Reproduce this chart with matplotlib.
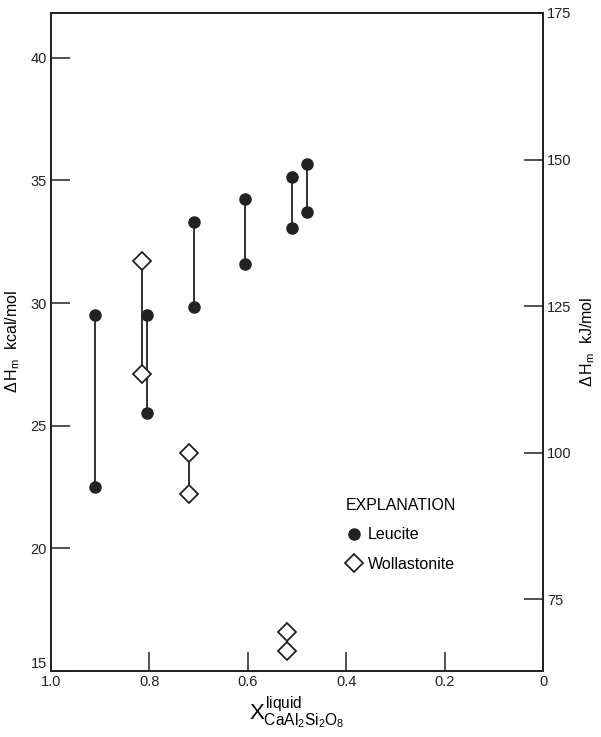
import matplotlib
matplotlib.use("Agg")
import matplotlib.pyplot as plt
from matplotlib.lines import Line2D

plt.rcParams['font.family'] = ['Liberation Sans', 'DejaVu Sans']
plt.rcParams['mathtext.fontset'] = 'custom'
plt.rcParams['mathtext.rm'] = 'Liberation Sans'
plt.rcParams['mathtext.it'] = 'Liberation Sans'

KCAL_TO_KJ = 4.184

# leucite: mole fraction and the two enthalpy estimates (kcal/mol)
leucite_x = [0.91, 0.805, 0.71, 0.605, 0.51, 0.48]
leucite_hi = [29.5, 29.5, 33.3, 34.25, 35.15, 35.65]
leucite_lo = [22.5, 25.5, 29.85, 31.6, 33.05, 33.7]

# wollastonite
woll_x = [0.815, 0.72, 0.52]
woll_hi = [31.7, 23.9, 16.6]
woll_lo = [27.1, 22.2, 15.8]

xticks = [1.0, 0.8, 0.6, 0.4, 0.2, 0.0]
xticklabels = ['1.0', '0.8', '0.6', '0.4', '0.2', '0']
kcal_ticks = [15, 20, 25, 30, 35, 40]
kj_ticks = [75, 100, 125, 150, 175]

fig = plt.figure(figsize=(6.01, 7.37), dpi=100)
ax = fig.add_axes([0.085, 0.0896, 0.8185, 0.8928])

for x, a, b in zip(leucite_x, leucite_hi, leucite_lo):
    ax.plot([x, x], [a, b], color='#222222', lw=1.3, zorder=2)
for x, a, b in zip(woll_x, woll_hi, woll_lo):
    ax.plot([x, x], [a, b], color='#222222', lw=1.3, zorder=2)

ax.plot(leucite_x + leucite_x, leucite_hi + leucite_lo, 'o', ms=8,
        color='#222222', ls='none', zorder=3)
ax.plot(woll_x + woll_x, woll_hi + woll_lo, 'D', ms=9.5, mfc='white',
        mec='#222222', mew=1.3, ls='none', zorder=4)

ax.set_xlim(1.0, 0.0)
ax.set_ylim(15, 175 / KCAL_TO_KJ)
ax.set_xticks(xticks)
ax.set_xticklabels(xticklabels)
ax.set_yticks(kcal_ticks)
ax.tick_params(direction='in', length=14, width=1.1, labelsize=10.5,
               colors='#222222', pad=3)
for s in ax.spines.values():
    s.set_linewidth(1.3)
    s.set_color('#222222')
# the 15 label sits just above the corner, as in the original
ax.get_yticklabels()[0].set_va('bottom')

ax2 = ax.twinx()
lo, hi = ax.get_ylim()
ax2.set_ylim(lo * KCAL_TO_KJ, hi * KCAL_TO_KJ)
ax2.set_yticks(kj_ticks)
ax2.tick_params(direction='in', length=14, width=1.1, labelsize=10.5,
                colors='#222222', pad=3)
for s in ax2.spines.values():
    s.set_linewidth(1.3)
    s.set_color('#222222')

ax.set_ylabel(r'$\Delta\,H_m$  kcal/mol', fontsize=11.5, labelpad=6)
ax2.set_ylabel(r'$\Delta\,H_m$  kJ/mol', fontsize=11.5, labelpad=5)
ax.set_xlabel(r'$X^{\mathrm{liquid}}_{\mathrm{CaAl_2Si_2O_8}}$', fontsize=16,
              labelpad=4)

handles = [
    Line2D([], [], marker='o', ls='none', color='#222222', ms=8),
    Line2D([], [], marker='D', ls='none', mfc='white', mec='#222222',
           mew=1.3, ms=9),
]
leg = ax.legend(handles, ['Leucite', 'Wollastonite'], title='EXPLANATION',
                frameon=False, loc='upper left',
                bbox_to_anchor=(0.57, 0.285), fontsize=11.5,
                title_fontsize=11.5, handletextpad=0.4, labelspacing=0.9,
                handlelength=1.0)
leg._legend_box.align = 'left'

fig.savefig('out.png', dpi=100)
